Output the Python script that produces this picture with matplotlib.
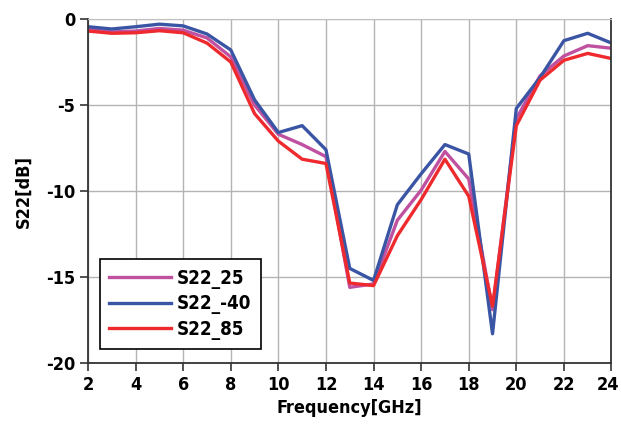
import matplotlib
matplotlib.use("Agg")
import matplotlib.pyplot as plt
import matplotlib.transforms as mtrans

# Datos
freq = [2, 3, 4, 5, 6, 7, 8, 9, 10, 11, 12, 13, 14, 15, 16, 17, 18, 19, 20, 21, 22, 23, 24]
s22_25 = [-0.6, -0.75, -0.7, -0.55, -0.65, -1.1, -2.2, -5.0, -6.7, -7.3, -8.0, -15.6, -15.4,
          -11.7, -9.95, -7.7, -9.3, -16.9, -5.8, -3.3, -2.15, -1.55, -1.7]
s22_m40 = [-0.45, -0.58, -0.45, -0.3, -0.4, -0.87, -1.8, -4.7, -6.6, -6.2, -7.6, -14.5, -15.2,
           -10.8, -9.0, -7.3, -7.85, -18.3, -5.2, -3.4, -1.26, -0.83, -1.4]
s22_85 = [-0.7, -0.83, -0.8, -0.68, -0.8, -1.4, -2.5, -5.5, -7.1, -8.15, -8.4, -15.35, -15.5,
          -12.6, -10.5, -8.15, -10.3, -16.7, -6.2, -3.55, -2.4, -2.0, -2.3]

plt.rcParams['font.family'] = ['DejaVu Sans']
plt.rcParams['font.weight'] = 'bold'
plt.rcParams['font.stretch'] = 'condensed'
plt.rcParams['axes.unicode_minus'] = False

fig = plt.figure(figsize=(6.21, 4.30), dpi=100)
ax = fig.add_axes([0.1417, 0.1558, 0.843, 0.8])

ax.plot(freq, s22_25, color='#c050a0', lw=2.4, label='S22_25')
ax.plot(freq, s22_m40, color='#3b55a5', lw=2.4, label='S22_-40')
ax.plot(freq, s22_85, color='#ee2a2e', lw=2.4, label='S22_85')

ax.set_xlim(2, 24)
ax.set_ylim(-20, 0)
ax.set_xticks(range(2, 25, 2))
ax.set_yticks([-20, -15, -10, -5, 0])
ax.grid(True, color='#b4b4b4', lw=1.0)
ax.tick_params(labelsize=13, direction='out', length=6, width=1.2, color='#333333', pad=3)
for lbl in ax.get_xticklabels() + ax.get_yticklabels():
    lbl.set_fontweight('bold')
    lbl.set_fontstretch('condensed')
# el ultimo rotulo (24) queda pegado al borde, se corre un poco
ultimo = ax.get_xticklabels()[-1]
ultimo.set_transform(ultimo.get_transform() + mtrans.ScaledTranslation(-3 / 100, 0, fig.dpi_scale_trans))

for lado in ['left', 'bottom', 'right']:
    ax.spines[lado].set_color('#333333')
    ax.spines[lado].set_linewidth(1.3)
ax.spines['top'].set_color('#c0c0c0')

ax.set_xlabel('Frequency[GHz]', fontsize=13, fontweight='bold', fontstretch='condensed', labelpad=4)
ax.set_ylabel('S22[dB]', fontsize=13, fontweight='bold', fontstretch='condensed', labelpad=10)

leg = ax.legend(loc='lower left', bbox_to_anchor=(0.023, 0.04), fontsize=13.5, handlelength=3.3,
                fancybox=False, framealpha=1, edgecolor='black', borderpad=0.5, borderaxespad=0,
                labelspacing=0.3, handletextpad=0.3)
leg.get_frame().set_linewidth(1.2)
for t in leg.get_texts():
    t.set_fontweight('bold')
    t.set_fontstretch('condensed')

fig.savefig('out.png', dpi=100)
